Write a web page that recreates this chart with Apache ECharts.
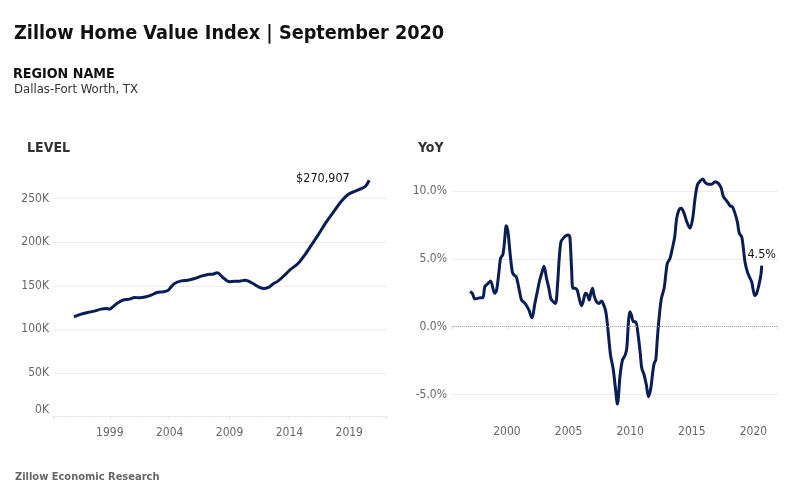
<!DOCTYPE html>
<html>
<head>
<meta charset="utf-8">
<script src="https://cdn.jsdelivr.net/npm/echarts@6/dist/echarts.min.js"></script>
<style>
  html, body { margin: 0; padding: 0; background: #ffffff; }
  #chart { width: 799px; height: 499px; }
</style>
</head>
<body>
<div id="chart"></div>
<script>
// ---- Data ----
// Decimal years
var levelDates = [1996.00, 1996.60, 1997.16, 1997.72, 1998.27, 1998.69, 1998.97, 1999.25, 1999.67, 2000.09,
  2000.65, 2001.06, 2001.48, 2002.03, 2002.45, 2002.95, 2003.43, 2003.85, 2004.12, 2004.40,
  2004.96, 2005.50, 2006.08, 2006.63, 2007.19, 2007.60, 2007.97, 2008.44, 2009.00, 2009.42,
  2009.83, 2010.30, 2010.53, 2010.95, 2011.50, 2011.92, 2012.34, 2012.60, 2013.04, 2013.60,
  2014.02, 2014.72, 2015.27, 2015.83, 2016.39, 2017.09, 2017.79, 2018.34, 2018.90, 2019.46,
  2020.01, 2020.38, 2020.67];
// Thousands of dollars
var levelValues = [114.4, 117.5, 119.4, 120.9, 123.2, 124.0, 123.2, 125.8, 130.4, 133.5,
  134.7, 136.6, 136.2, 137.3, 139.2, 142.3, 143.0, 144.6, 148.7, 152.6,
  155.6, 156.4, 158.3, 161.0, 162.9, 163.3, 164.8, 159.5, 154.5, 155.3,
  155.3, 156.4, 155.6, 152.6, 148.1, 146.9, 148.7, 151.8, 155.3, 162.1,
  167.9, 175.5, 185.0, 196.5, 208.0, 223.2, 236.6, 246.9, 254.6, 258.3,
  261.4, 264.4, 270.907];

var yoyDates = [1997.00, 1997.19, 1997.40, 1997.60, 1997.86, 1998.05, 1998.20, 1998.40, 1998.67, 1999.00,
  1999.16, 1999.35, 1999.48, 1999.67, 1999.80, 1999.94, 2000.08, 2000.24, 2000.43, 2000.57,
  2000.75, 2000.97, 2001.18, 2001.38, 2001.59, 2001.78, 2001.97, 2002.05, 2002.24, 2002.46,
  2002.64, 2002.86, 2003.00, 2003.21, 2003.40, 2003.57, 2003.75, 2003.94, 2004.10, 2004.24,
  2004.38, 2004.56, 2004.75, 2004.97, 2005.10, 2005.24, 2005.35, 2005.51, 2005.70, 2005.83,
  2006.05, 2006.18, 2006.37, 2006.53, 2006.67, 2006.80, 2006.94, 2007.07, 2007.26, 2007.46,
  2007.67, 2007.80, 2008.02, 2008.21, 2008.40, 2008.61, 2008.80, 2008.96, 2009.18, 2009.37,
  2009.59, 2009.72, 2009.86, 2009.97, 2010.10, 2010.26, 2010.45, 2010.64, 2010.80, 2010.94,
  2011.13, 2011.31, 2011.48, 2011.67, 2011.80, 2011.94, 2012.07, 2012.20, 2012.34, 2012.53,
  2012.75, 2012.88, 2013.01, 2013.23, 2013.42, 2013.61, 2013.77, 2013.96, 2014.15, 2014.37,
  2014.59, 2014.85, 2015.07, 2015.26, 2015.45, 2015.67, 2015.89, 2016.07, 2016.34, 2016.61,
  2016.88, 2017.15, 2017.37, 2017.56, 2017.78, 2017.97, 2018.10, 2018.29, 2018.50, 2018.69,
  2018.85, 2019.04, 2019.18, 2019.31, 2019.50, 2019.66, 2019.85, 2019.98, 2020.11, 2020.26,
  2020.44, 2020.60, 2020.67];
// Percent
var yoyValues = [2.60, 2.46, 2.04, 2.09, 2.14, 2.14, 2.95, 3.13, 3.37, 2.46,
  2.70, 4.06, 5.04, 5.34, 6.27, 7.45, 7.00, 5.53, 4.06, 3.81,
  3.69, 2.83, 1.97, 1.80, 1.55, 1.23, 0.74, 0.66, 1.60, 2.58,
  3.37, 4.06, 4.45, 3.57, 2.83, 2.04, 1.85, 1.72, 3.07, 5.04,
  6.27, 6.52, 6.69, 6.76, 6.64, 4.30, 2.83, 2.83, 2.70, 2.21,
  1.55, 1.85, 2.46, 2.34, 1.97, 2.46, 2.83, 2.29, 1.85, 1.72,
  1.90, 1.72, 1.11, -0.37, -2.09, -3.07, -4.54, -5.70, -3.56, -2.46,
  -2.09, -1.59, 0.37, 1.11, 0.86, 0.37, 0.37, -0.61, -1.84, -3.07,
  -3.56, -4.30, -5.16, -4.54, -3.56, -2.70, -2.46, -0.86, 0.62, 2.09,
  2.83, 3.81, 4.67, 5.04, 5.78, 6.64, 7.99, 8.61, 8.73, 8.36,
  7.74, 7.26, 8.00, 9.47, 10.45, 10.74, 10.89, 10.65, 10.50, 10.50,
  10.69, 10.57, 10.25, 9.59, 9.34, 9.10, 8.92, 8.85, 8.36, 7.74,
  6.89, 6.64, 5.78, 4.79, 4.06, 3.69, 3.32, 2.71, 2.29, 2.46,
  3.07, 3.81, 4.50];

var titleText = 'Zillow Home Value Index | September 2020';
var regionLabel = 'REGION NAME';
var regionName = 'Dallas-Fort Worth, TX';
var levelTitle = 'LEVEL';
var yoyTitle = 'YoY';
var footerText = 'Zillow Economic Research';

// ---- Build ----
var FONT = "'DejaVu Sans Condensed', 'DejaVu Sans', sans-serif";
var LINE = '#0b1d55';
var LEVEL_BASE_YEAR = 1999;

var levelData = levelDates.map(function (d, i) { return [d - LEVEL_BASE_YEAR, levelValues[i]]; });
var yoyData = yoyDates.map(function (d, i) { return [d, yoyValues[i]]; });
var lastL = levelData[levelData.length - 1];
var lastY = yoyData[yoyData.length - 1];

function txt(x, y, text, size, weight, color) {
  return {
    type: 'text', x: x, y: y, silent: true,
    style: { text: text, fontSize: size, fontWeight: weight, fontFamily: FONT, fill: color,
             align: 'left', verticalAlign: 'middle' }
  };
}

var axisTextColor = '#666';
var chart = echarts.init(document.getElementById('chart'), null, { renderer: 'canvas' });
chart.setOption({
  animation: false,
  backgroundColor: '#ffffff',
  graphic: [
    txt(14, 34, titleText, 19.7, 'bold', '#111'),
    txt(13, 74, regionLabel, 14.2, 'bold', '#111'),
    txt(14, 90, regionName, 13, 'normal', '#333'),
    txt(27, 148, levelTitle, 14, 'bold', '#333'),
    txt(418, 148, yoyTitle, 14, 'bold', '#333'),
    txt(15, 477, footerText, 11, 'bold', '#666')
  ],
  grid: [
    { left: 53, right: 413, top: 168, bottom: 499 - 416.6, containLabel: false },
    { left: 452, right: 21, top: 164, bottom: 499 - 416.2, containLabel: false }
  ],
  xAxis: [
    {
      gridIndex: 0, type: 'value', min: -4.75, max: 23.07, minInterval: 5, maxInterval: 5,
      axisLine: { show: true, lineStyle: { color: '#e3e3e3', type: 'dotted' } },
      axisTick: { show: true, length: 3, lineStyle: { color: '#e3e3e3' } },
      minorTick: { show: true, splitNumber: 5, length: 2, lineStyle: { color: '#eeeeee' } },
      splitLine: { show: false },
      axisLabel: {
        color: axisTextColor, fontSize: 12, fontFamily: FONT, margin: 10,
        formatter: function (v) { return (Math.abs(v % 5) < 1e-6 && v >= 0) ? String(v + LEVEL_BASE_YEAR) : ''; }
      }
    },
    {
      gridIndex: 1, type: 'value', min: 1995.54, max: 2021.99, minInterval: 5, maxInterval: 5,
      axisLine: { show: true, lineStyle: { color: '#e3e3e3', type: 'dotted' } },
      axisTick: { show: true, length: 3, lineStyle: { color: '#e3e3e3' } },
      minorTick: { show: true, splitNumber: 5, length: 2, lineStyle: { color: '#eeeeee' } },
      splitLine: { show: false },
      axisLabel: {
        color: axisTextColor, fontSize: 12, fontFamily: FONT, margin: 10,
        formatter: function (v) { return (Math.abs(v % 5) < 1e-6) ? String(v) : ''; }
      }
    }
  ],
  yAxis: [
    {
      gridIndex: 0, type: 'value', min: 0, max: 285, minInterval: 50, maxInterval: 50,
      axisLine: { show: false }, axisTick: { show: false },
      splitLine: { show: true, showMinLine: false, showMaxLine: false, lineStyle: { color: '#ececec' } },
      axisLabel: {
        color: axisTextColor, fontSize: 12, fontFamily: FONT, margin: 4, showMaxLabel: false,
        formatter: function (v) { return v === 0 ? '{z|0K}' : (Math.abs(v % 50) < 1e-6 ? v + 'K' : ''); },
        rich: { z: { color: axisTextColor, fontSize: 12, fontFamily: FONT, padding: [0, 0, 14, 0] } }
      }
    },
    {
      gridIndex: 1, type: 'value', min: -6.6, max: 12, minInterval: 5, maxInterval: 5,
      axisLine: { show: false }, axisTick: { show: false },
      splitLine: { show: true, showMinLine: false, showMaxLine: false, lineStyle: { color: '#ececec' } },
      axisLabel: {
        color: axisTextColor, fontSize: 12, fontFamily: FONT, margin: 5, showMinLabel: false, showMaxLabel: false,
        formatter: function (v) { return (Math.abs(v % 5) < 1e-6) ? v.toFixed(1) + '%' : ''; }
      }
    }
  ],
  series: [
    {
      type: 'line', xAxisIndex: 0, yAxisIndex: 0, data: levelData,
      showSymbol: false, symbol: 'none', smooth: 0.3,
      lineStyle: { color: LINE, width: 3 }, itemStyle: { color: LINE },
      markPoint: {
        silent: true, symbol: 'circle', symbolSize: 1,
        itemStyle: { color: 'rgba(0,0,0,0)' },
        label: {
          show: true, position: 'left', distance: 19, offset: [0, -2],
          color: '#111', fontSize: 12.5, fontFamily: FONT,
          formatter: function () { return '$' + Math.round(lastL[1] * 1000).toLocaleString('en-US'); }
        },
        data: [{ coord: lastL }]
      }
    },
    {
      type: 'line', xAxisIndex: 1, yAxisIndex: 1, data: yoyData,
      showSymbol: false, symbol: 'none', smooth: 0.3,
      lineStyle: { color: LINE, width: 3 }, itemStyle: { color: LINE },
      markLine: {
        silent: true, symbol: 'none', label: { show: false },
        lineStyle: { color: '#aaaaaa', type: 'dotted', width: 1 },
        data: [{ yAxis: 0 }]
      },
      markPoint: {
        silent: true, symbol: 'circle', symbolSize: 1,
        itemStyle: { color: 'rgba(0,0,0,0)' },
        label: {
          show: true, position: 'top', distance: 4,
          color: '#111', fontSize: 12.5, fontFamily: FONT,
          formatter: function () { return lastY[1].toFixed(1) + '%'; }
        },
        data: [{ coord: lastY }]
      },
      z: 3
    }
  ]
});
</script>
</body>
</html>
